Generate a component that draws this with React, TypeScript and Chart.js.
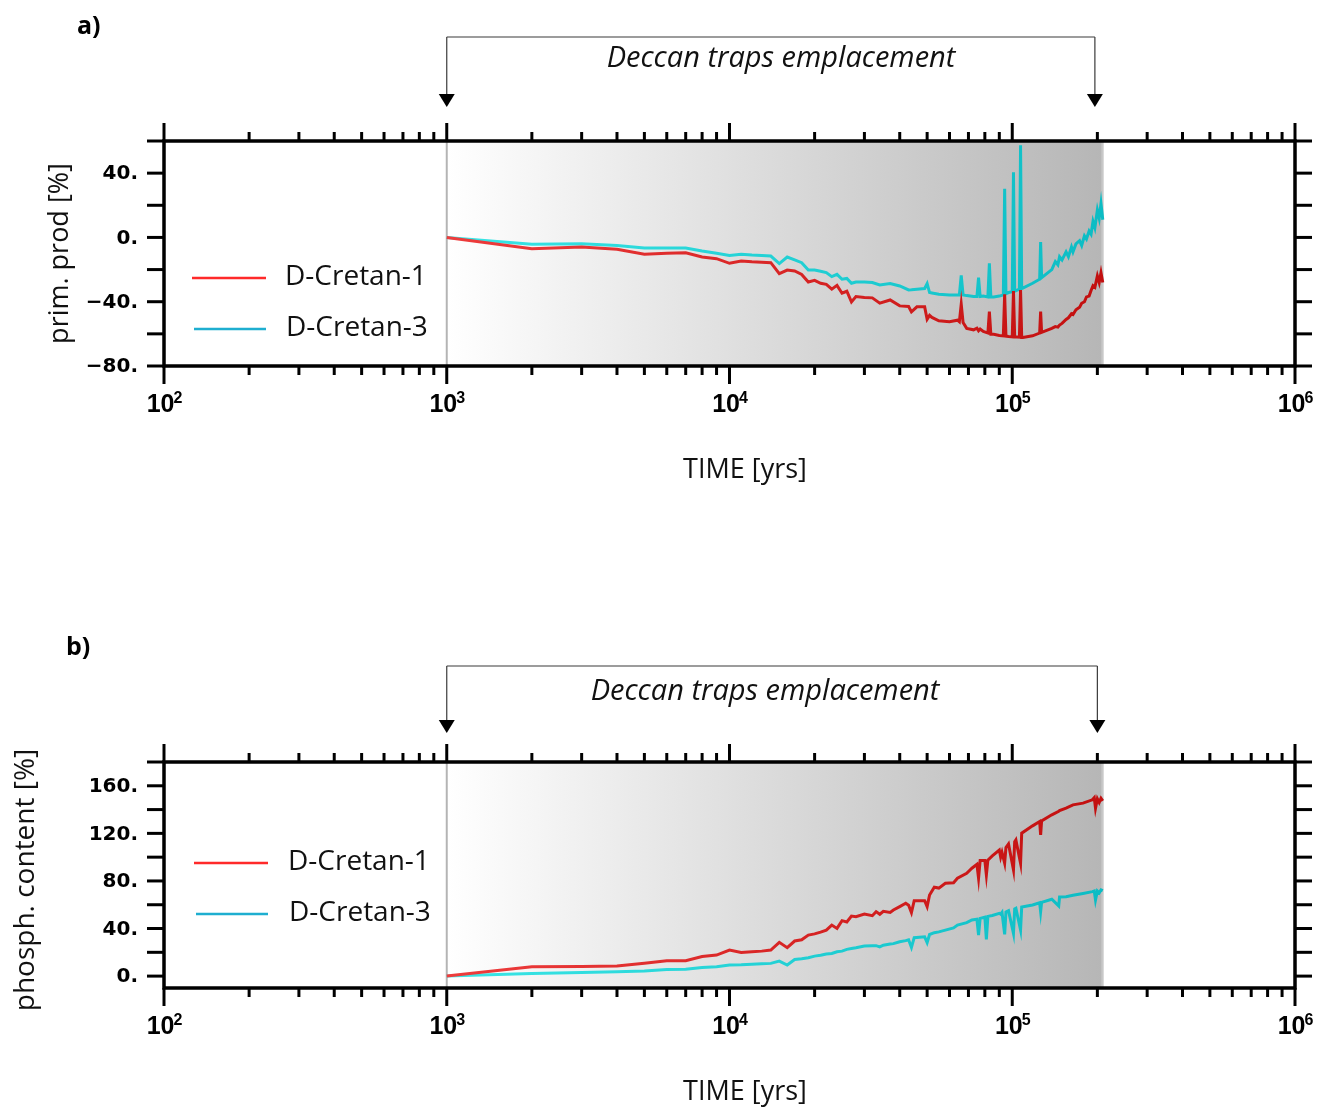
import React, { useEffect, useRef } from "react";
import { Chart, registerables } from "chart.js";

Chart.register(...registerables);

// ---------------- DATA ----------------
const seriesNames = ["D-Cretan-1", "D-Cretan-3"];

// Panel a) primary production change [%]
const timesA = [
  1000, 2000, 3000, 4000, 5000, 6000, 7000, 8000, 9000, 10000,
  11000, 12000, 13000, 14000, 15000, 16000, 17000, 18000, 19000, 20000,
  21000, 22000, 23000, 24000, 25000, 26000, 27000, 28000, 30000, 32000,
  34000, 37000, 40000, 43000, 44000, 46000, 49000, 50000, 51000, 52000,
  55000, 60000, 64000, 65000, 66000, 67000, 69000, 73000, 75000, 76000,
  77000, 79000, 82000, 83000, 84000, 86000, 90000, 93000, 94000, 95000,
  97000, 100000, 101000, 102000, 104000, 106000, 107000, 108000, 109000, 118000,
  125000, 126000, 127000, 138000, 142000, 145000, 147000, 150000, 155000, 158000,
  162000, 164000, 168000, 173000, 176000, 180000, 183000, 187000, 190000, 193000,
  196000, 200000, 203000, 206000, 209000,
];
const primProdCretan1 = [
  0, -7, -6, -7.4, -10.5, -9.8, -9.5, -12.2, -13.2, -16.1,
  -14.7, -15.2, -15.5, -15.7, -22.5, -20.3, -20.9, -23, -27.7, -26.7,
  -28.5, -29.2, -32.2, -29.8, -34.7, -33.5, -40.1, -36.8, -37.4, -37.6,
  -40.9, -38.9, -42.6, -43, -46.3, -43.2, -43.2, -50.9, -48.5, -49.8,
  -51.9, -52.5, -51.5, -52.5, -41.6, -52.9, -56.6, -57.5, -56.5, -58.1,
  -57, -58.5, -59.5, -46.1, -60.2, -60.2, -61, -61.2, -35.4, -61.4,
  -61.6, -61.8, -33.3, -62, -62, -62.1, -32.7, -62.2, -62.2, -61.2,
  -59.5, -46.1, -59.1, -56.6, -55.5, -55.8, -54.5, -53.5, -51, -50,
  -47.5, -48, -45, -43.5, -41, -40, -37, -36.5, -33, -30,
  -31, -24, -28, -22, -28,
];
const primProdCretan3 = [
  0, -4.3, -3.9, -5, -6.6, -6.6, -6.6, -8.5, -9.9, -11.3,
  -10.5, -11, -11.3, -11.6, -16.3, -12.2, -14, -15.7, -20.3, -20.3,
  -21, -21.9, -24.4, -23, -26, -25.5, -28.5, -27.7, -27.7, -28.1,
  -29.6, -28.7, -30.2, -32.7, -32.6, -32.2, -31.8, -28.8, -34.3, -34.6,
  -35.4, -35.8, -35.8, -35.8, -23.6, -35.8, -36.2, -36.8, -36.8, -25,
  -36.8, -36.5, -37, -16.1, -37, -37, -36.5, -35.8, 30.2, -35,
  -34.3, -33.8, 40.5, -33.5, -32.8, -32.2, 57.3, -31.8, -31.5, -28.5,
  -26, -2.9, -25, -20, -15, -17, -12, -14, -9, -12,
  -6, -9, -4, -2, -5, 1, -1, 4, 2, 10,
  6, 17, 12, 21, 11,
];

// Panel b) phosphate content change [%]
const timesB = [
  1000, 2000, 3000, 4000, 5000, 6000, 7000, 8000, 9000, 10000,
  11000, 12000, 13000, 14000, 15000, 16000, 17000, 18000, 19000, 20000,
  21000, 22000, 23000, 24000, 25000, 26000, 27000, 28000, 30000, 32000,
  33000, 34000, 35000, 37000, 38000, 40000, 42000, 43000, 44000, 45000,
  49000, 50000, 51000, 53000, 55000, 58000, 62000, 64000, 69000, 72000,
  75000, 76000, 77000, 80000, 81000, 82000, 85000, 90000, 91000, 92000,
  94000, 95000, 97000, 101000, 102000, 103000, 107000, 108000, 118000, 125000,
  126000, 127000, 138000, 146000, 147000, 155000, 164000, 178000, 192000, 195000,
  197000, 200000, 203000, 206000, 209000,
];
const phosphCretan1 = [
  0, 7.9, 8.1, 8.4, 10.8, 12.9, 12.9, 16.5, 17.7, 21.9,
  19.9, 20.5, 21, 21.9, 28.4, 23.9, 29.5, 30.5, 34.5, 35.5,
  37, 38.7, 42.9, 40.1, 46.6, 45.5, 50.5, 50, 52.2, 50.8,
  54.2, 52, 54.5, 53.5, 55.6, 58.4, 61.2, 59.5, 53.3, 63.4,
  63.4, 58.4, 68.2, 74.7, 74, 78.1, 78.5, 82.3, 86.5, 90.7,
  94, 82.3, 97.1, 97.1, 85, 97.5, 101, 106, 100, 104,
  94.9, 108, 111, 89.3, 113, 114.5, 94.9, 120.2, 126.3, 130,
  118.7, 130.5, 135.6, 138.5, 139.2, 141.2, 144, 145.4, 148.2, 150,
  141.2, 149, 146, 149.5, 147.4,
];
const phosphCretan3 = [
  0, 2.2, 3, 3.6, 4.2, 5.6, 5.8, 7.3, 7.9, 9.3,
  9.5, 10, 10.3, 10.7, 12.6, 9.3, 14, 14.6, 15.5, 16.8,
  17.5, 18.5, 19, 20.5, 21, 22.5, 23.2, 23.8, 25.3, 25.5,
  25.6, 24.5, 26, 27, 27.3, 28.9, 29.8, 30.5, 24.1, 32.3,
  33, 28.1, 35, 36.5, 37.2, 38.7, 40.5, 42.9, 45, 47.2,
  47.8, 34.5, 48.5, 49.5, 30.9, 50.2, 51, 52.8, 52, 53.5,
  35.1, 54, 55, 35.9, 56.5, 57, 38.7, 58, 59.8, 61.7,
  54.2, 62, 64.6, 59, 66.5, 66.8, 68, 69.5, 71, 71.5,
  64, 71.5, 70, 72.5, 71.8,
];

// Axes / ticks
const xMajorTicks = [100, 1000, 10000, 100000, 1000000];
const xTickExponents = ["2", "3", "4", "5", "6"];
const xMinorMultipliers = [2, 3, 4, 5, 6, 7, 8, 9];
const yTicksA = [-80, -60, -40, -20, 0, 20, 40, 60];
const yLabelsA = [-80, -40, 0, 40];
const yTicksB = [0, 20, 40, 60, 80, 100, 120, 140, 160, 180];
const yLabelsB = [0, 40, 80, 120, 160];

// Deccan traps emplacement interval [yrs]
const deccanStart = 1000;
const deccanEndArrowA = 196000;
const deccanEndArrowB = 200000;
const deccanShadeEnd = 210000;

// ---------------- STYLE ----------------
const W = 1317;
const CH = 554;
const RED_L = "#ee3c3c";
const RED_R = "#c20f0f";
const CYAN_L = "#3ae6e6";
const CYAN_R = "#0cbcc4";
const RED_LEG = "#ff2a2a";
const CYAN_LEG = "#1eaed0";

type PanelCfg = {
  pad: { left: number; right: number; top: number; bottom: number };
  yMin: number;
  yMax: number;
  yTicks: number[];
  yLabels: number[];
  yTitle: string;
  yTitleX: number;
  yTitleDY: number;
  yTitleSize: number;
  tag: string;
  tagX: number;
  tagY: number;
  bracketY: number;
  tipY: number;
  arrowEnd: number;
  textX: number;
  textY: number;
  legY: number[];
  legX1: number;
  legX2: number;
  legTextX: number;
};

const cfgA: PanelCfg = {
  pad: { left: 164, right: W - 1295, top: 141, bottom: CH - 366 },
  yMin: -80,
  yMax: 60,
  yTicks: yTicksA,
  yLabels: yLabelsA,
  yTitle: "prim. prod [%]",
  yTitleX: 60,
  yTitleDY: 0,
  yTitleSize: 27,
  tag: "a)",
  tagX: 77,
  tagY: 27,
  bracketY: 37,
  tipY: 107,
  arrowEnd: deccanEndArrowA,
  textX: 781,
  textY: 59,
  legY: [278, 329],
  legX1: 192,
  legX2: 266,
  legTextX: 285,
};

const cfgB: PanelCfg = {
  pad: { left: 164, right: W - 1295, top: 762 - CH, bottom: CH - (988 - CH) },
  yMin: -10,
  yMax: 180,
  yTicks: yTicksB,
  yLabels: yLabelsB,
  yTitle: "phosph. content [%]",
  yTitleX: 26,
  yTitleDY: 5,
  yTitleSize: 28,
  tag: "b)",
  tagX: 66,
  tagY: 648 - CH,
  bracketY: 666 - CH,
  tipY: 733 - CH,
  arrowEnd: deccanEndArrowB,
  textX: 765,
  textY: 692 - CH,
  legY: [863 - CH, 914 - CH],
  legX1: 194,
  legX2: 268,
  legTextX: 288,
};

function fmtY(v: number) {
  return (v < 0 ? "\u2212" + Math.abs(v) : String(v)) + ".";
}

function makeGradientColor(c0: string, c1: string) {
  return (context: any) => {
    const chart = context.chart;
    const area = chart.chartArea;
    const xs = chart.scales && chart.scales.x;
    if (!area || !xs) return c0;
    const g = chart.ctx.createLinearGradient(
      xs.getPixelForValue(deccanStart), 0, xs.getPixelForValue(deccanShadeEnd), 0
    );
    g.addColorStop(0, c0);
    g.addColorStop(1, c1);
    return g;
  };
}

function makePlugin(cfg: PanelCfg) {
  return {
    id: "panelDecor",
    beforeDatasetsDraw(chart: any) {
      const ctx = chart.ctx;
      const a = chart.chartArea;
      const xs = chart.scales.x;
      const x0 = xs.getPixelForValue(deccanStart);
      const x1 = xs.getPixelForValue(deccanShadeEnd);
      ctx.save();
      const g = ctx.createLinearGradient(x0, 0, x1, 0);
      g.addColorStop(0, "#ffffff");
      g.addColorStop(1, "#b6b6b6");
      ctx.fillStyle = g;
      ctx.fillRect(x0, a.top, x1 - x0, a.bottom - a.top);
      ctx.lineWidth = 2;
      ctx.strokeStyle = "#b4b4b4";
      ctx.beginPath();
      ctx.moveTo(x0, a.top);
      ctx.lineTo(x0, a.bottom);
      ctx.stroke();
      ctx.strokeStyle = "#c8c8c8";
      ctx.beginPath();
      ctx.moveTo(x1 - 1, a.top);
      ctx.lineTo(x1 - 1, a.bottom);
      ctx.stroke();
      ctx.restore();
    },
    afterDraw(chart: any) {
      const ctx = chart.ctx;
      const a = chart.chartArea;
      const xs = chart.scales.x;
      const ys = chart.scales.y;
      ctx.save();
      const line = (x1: number, y1: number, x2: number, y2: number) => {
        ctx.beginPath();
        ctx.moveTo(x1, y1);
        ctx.lineTo(x2, y2);
        ctx.stroke();
      };
      // frame
      ctx.strokeStyle = "#000";
      ctx.lineWidth = 3.5;
      ctx.lineCap = "butt";
      ctx.strokeRect(a.left, a.top, a.right - a.left, a.bottom - a.top);
      ctx.lineWidth = 3;
      // x ticks
      xMajorTicks.forEach((v) => {
        const px = xs.getPixelForValue(v);
        line(px, a.top - 18, px, a.top);
        line(px, a.bottom, px, a.bottom + 18);
      });
      xMajorTicks.slice(0, -1).forEach((d) => {
        xMinorMultipliers.forEach((m) => {
          const px = xs.getPixelForValue(d * m);
          line(px, a.top - 9, px, a.top);
          line(px, a.bottom, px, a.bottom + 9);
        });
      });
      // y ticks
      cfg.yTicks.forEach((v) => {
        const py = ys.getPixelForValue(v);
        line(a.left - 17, py, a.left, py);
        line(a.right, py, a.right + 17, py);
      });
      // x tick labels
      ctx.fillStyle = "#000";
      ctx.textBaseline = "alphabetic";
      ctx.textAlign = "left";
      xMajorTicks.forEach((v, i) => {
        const px = xs.getPixelForValue(v);
        ctx.font = 'bold 25px "Liberation Sans"';
        const w1 = ctx.measureText("10").width;
        ctx.font = 'bold 16px "Liberation Sans"';
        const w2 = ctx.measureText(xTickExponents[i]).width;
        const sx = px - (w1 + w2) / 2 + 1;
        ctx.font = 'bold 25px "Liberation Sans"';
        ctx.fillText("10", sx, a.bottom + 46);
        ctx.font = 'bold 16px "Liberation Sans"';
        ctx.fillText(xTickExponents[i], sx + w1 - 1, a.bottom + 37);
      });
      // y tick labels
      ctx.font = 'bold 20px "DejaVu Sans"';
      ctx.textAlign = "right";
      ctx.textBaseline = "middle";
      cfg.yLabels.forEach((v) => {
        const py = ys.getPixelForValue(v);
        ctx.fillText(fmtY(v), a.left - 26, py + 1);
      });
      // axis titles
      ctx.font = '27px "Open Sans"';
      ctx.textAlign = "center";
      ctx.textBaseline = "middle";
      ctx.fillStyle = "#111";
      ctx.fillText("TIME [yrs]", 745, a.bottom + 104);
      ctx.save();
      ctx.font = cfg.yTitleSize + 'px "Open Sans"';
      ctx.translate(cfg.yTitleX, (a.top + a.bottom) / 2 + cfg.yTitleDY);
      ctx.rotate(-Math.PI / 2);
      ctx.fillText(cfg.yTitle, 0, 0);
      ctx.restore();
      // panel tag
      ctx.font = 'bold 25px "Open Sans"';
      ctx.textAlign = "left";
      ctx.textBaseline = "middle";
      ctx.fillStyle = "#000";
      ctx.fillText(cfg.tag, cfg.tagX, cfg.tagY);
      // legend
      const legCols = [RED_LEG, CYAN_LEG];
      seriesNames.forEach((name, i) => {
        ctx.strokeStyle = legCols[i];
        ctx.lineWidth = 2.6;
        line(cfg.legX1 + (i === 1 ? 2 : 0), cfg.legY[i], cfg.legX2, cfg.legY[i]);
        ctx.fillStyle = "#111";
        ctx.font = '28px "Open Sans"';
        ctx.textAlign = "left";
        ctx.textBaseline = "middle";
        ctx.fillText(name, cfg.legTextX + (i === 1 ? 1 : 0), cfg.legY[i] - 1);
      });
      // Deccan traps bracket
      const xL = xs.getPixelForValue(deccanStart);
      const xR = xs.getPixelForValue(cfg.arrowEnd);
      ctx.strokeStyle = "#3a3a3a";
      ctx.lineWidth = 1.2;
      line(xL, cfg.bracketY, xR, cfg.bracketY);
      line(xL, cfg.bracketY, xL, cfg.tipY - 12);
      line(xR, cfg.bracketY, xR, cfg.tipY - 12);
      ctx.fillStyle = "#000";
      [xL, xR].forEach((x) => {
        ctx.beginPath();
        ctx.moveTo(x - 8, cfg.tipY - 13);
        ctx.lineTo(x + 8, cfg.tipY - 13);
        ctx.lineTo(x, cfg.tipY);
        ctx.closePath();
        ctx.fill();
      });
      ctx.font = 'italic 29px "Open Sans"';
      ctx.textAlign = "center";
      ctx.textBaseline = "middle";
      ctx.fillStyle = "#111";
      ctx.fillText("Deccan traps emplacement", cfg.textX, cfg.textY);
      ctx.restore();
    },
  };
}

function buildConfig(cfg: PanelCfg, times: number[], s1: number[], s3: number[]): any {
  return {
    type: "line",
    data: {
      datasets: [
        {
          label: seriesNames[0],
          data: times.map((t, i) => ({ x: t, y: s1[i] })),
          borderColor: makeGradientColor(RED_L, RED_R),
          borderWidth: 3,
          pointRadius: 0,
          tension: 0,
          fill: false,
        },
        {
          label: seriesNames[1],
          data: times.map((t, i) => ({ x: t, y: s3[i] })),
          borderColor: makeGradientColor(CYAN_L, CYAN_R),
          borderWidth: 3,
          pointRadius: 0,
          tension: 0,
          fill: false,
        },
      ],
    },
    options: {
      animation: false,
      responsive: false,
      devicePixelRatio: 1,
      events: [],
      layout: { padding: cfg.pad },
      scales: {
        x: { type: "logarithmic", min: 100, max: 1000000, display: false },
        y: { type: "linear", min: cfg.yMin, max: cfg.yMax, display: false },
      },
      plugins: { legend: { display: false }, tooltip: { enabled: false } },
    },
    plugins: [makePlugin(cfg)],
  };
}

function Panel({ cfg, times, s1, s3, top }: { cfg: PanelCfg; times: number[]; s1: number[]; s3: number[]; top: number }) {
  const ref = useRef<HTMLCanvasElement | null>(null);
  useEffect(() => {
    if (!ref.current) return;
    const chart = new Chart(ref.current, buildConfig(cfg, times, s1, s3));
    return () => chart.destroy();
  }, []);
  return (
    <canvas
      ref={ref}
      width={W}
      height={CH}
      style={{ position: "absolute", left: 0, top, width: W, height: CH, display: "block" }}
    />
  );
}

export default function App() {
  return (
    <div style={{ position: "absolute", left: 0, top: 0, width: W, height: 1108, background: "#fff" }}>
      <Panel cfg={cfgA} times={timesA} s1={primProdCretan1} s3={primProdCretan3} top={0} />
      <Panel cfg={cfgB} times={timesB} s1={phosphCretan1} s3={phosphCretan3} top={CH} />
    </div>
  );
}
